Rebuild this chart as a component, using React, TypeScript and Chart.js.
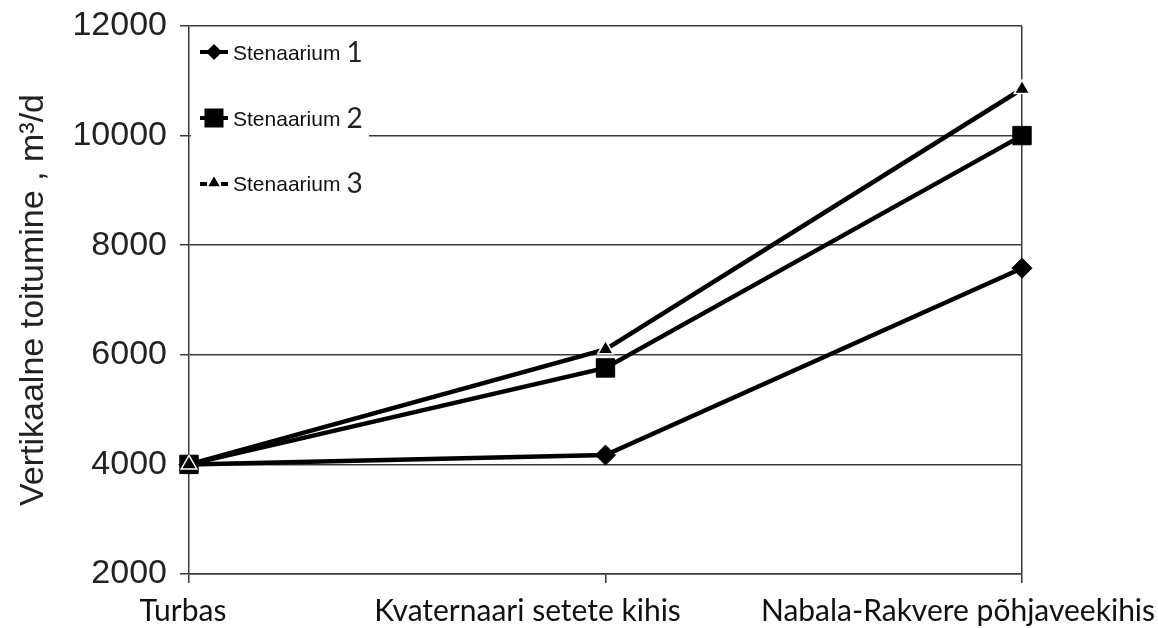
import React, { useEffect, useRef } from 'react';
import { Chart, registerables } from 'chart.js';

Chart.register(...registerables);

const CATEGORIES = ['Turbas', 'Kvaternaari setete kihis', 'Nabala-Rakvere põhjaveekihis'];
const SERIES_LABELS = ['Stenaarium', 'Stenaarium', 'Stenaarium'];
const SERIES_NUMBERS = ['1', '2', '3'];
const SCENARIO_1 = [4000, 4170, 7580];
const SCENARIO_2 = [4000, 5760, 10000];
const SCENARIO_3 = [4000, 6100, 10850];
const Y_MIN = 2000;
const Y_MAX = 12000;
const Y_STEP = 2000;
const Y_TITLE = 'Vertikaalne toitumine , m³/d';

const LABEL_SHIFT = [-6, -78, -64];
const AXIS_COLOR = '#3a3a3a';

function drawMarker(ctx: CanvasRenderingContext2D, style: string, x: number, y: number, r: number) {
  ctx.beginPath();
  if (style === 'rectRot') {
    ctx.moveTo(x - r, y);
    ctx.lineTo(x, y - r);
    ctx.lineTo(x + r, y);
    ctx.lineTo(x, y + r);
    ctx.closePath();
    ctx.fillStyle = '#000';
    ctx.fill();
  } else if (style === 'rect') {
    ctx.rect(x - r, y - r, 2 * r, 2 * r);
    ctx.fillStyle = '#000';
    ctx.fill();
  } else {
    ctx.moveTo(x, y - r);
    ctx.lineTo(x + r * 0.866, y + r / 2);
    ctx.lineTo(x - r * 0.866, y + r / 2);
    ctx.closePath();
    ctx.fillStyle = '#000';
    ctx.fill();
    ctx.strokeStyle = '#fff';
    ctx.lineWidth = 1.5;
    ctx.stroke();
  }
}

const legendPlugin = {
  id: 'insideLegend',
  afterDraw(chart: any) {
    const ctx: CanvasRenderingContext2D = chart.ctx;
    const area = chart.chartArea;
    ctx.save();
    ctx.fillStyle = '#fff';
    ctx.fillRect(area.left + 2, area.top + 3, 178, 182);
    const rows = [52, 118, 183];
    const styles = ['rectRot', 'rect', 'triangle'];
    const sizes = [8, 9.5, 8];
    rows.forEach((y, i) => {
      ctx.strokeStyle = '#000';
      ctx.lineWidth = 4;
      ctx.beginPath();
      if (i === 2) {
        ctx.moveTo(200, y + 1);
        ctx.lineTo(207, y + 1);
        ctx.moveTo(221, y + 1);
        ctx.lineTo(228, y + 1);
      } else {
        ctx.moveTo(200, y);
        ctx.lineTo(228, y);
      }
      ctx.stroke();
      drawMarker(ctx, styles[i], 214, y, sizes[i]);
      ctx.fillStyle = '#111';
      ctx.textBaseline = 'alphabetic';
      ctx.textAlign = 'left';
      ctx.font = '21px "Liberation Sans"';
      ctx.fillText(SERIES_LABELS[i], 233, y + 8);
      const w = ctx.measureText(SERIES_LABELS[i]).width;
      ctx.font = '28px Lato';
      ctx.fillStyle = '#222';
      ctx.fillText(SERIES_NUMBERS[i], 233 + w + 6, y + 10);
    });
    ctx.restore();
  },
};

const xLabelPlugin = {
  id: 'xLabels',
  afterDraw(chart: any) {
    const ctx: CanvasRenderingContext2D = chart.ctx;
    const xs = chart.scales.x;
    ctx.save();
    ctx.font = '30px Lato';
    ctx.fillStyle = '#111';
    ctx.textAlign = 'center';
    ctx.textBaseline = 'alphabetic';
    CATEGORIES.forEach((c, i) => {
      ctx.fillText(c, xs.getPixelForTick(i) + LABEL_SHIFT[i], 621);
    });
    ctx.restore();
  },
};

export default function App() {
  const ref = useRef<HTMLCanvasElement>(null);
  useEffect(() => {
    if (!ref.current) return;
    const common = {
      borderColor: '#000',
      backgroundColor: '#000',
      borderWidth: 4.5,
      pointBackgroundColor: '#000',
      tension: 0,
      clip: false as any,
    };
    const chart = new Chart(ref.current, {
      type: 'line',
      data: {
        labels: CATEGORIES,
        datasets: [
          {
            ...common,
            label: SERIES_LABELS[0] + ' ' + SERIES_NUMBERS[0],
            data: SCENARIO_1,
            pointStyle: 'rectRot',
            pointRadius: 10,
            pointBorderColor: '#000',
            pointBorderWidth: 1,
            order: 3,
          },
          {
            ...common,
            label: SERIES_LABELS[1] + ' ' + SERIES_NUMBERS[1],
            data: SCENARIO_2,
            pointStyle: 'rect',
            pointRadius: 13,
            pointBorderColor: '#000',
            pointBorderWidth: 1,
            order: 2,
          },
          {
            ...common,
            label: SERIES_LABELS[2] + ' ' + SERIES_NUMBERS[2],
            data: SCENARIO_3,
            pointStyle: 'triangle',
            pointRadius: 9,
            pointBorderColor: '#fff',
            pointBorderWidth: 1.5,
            order: 1,
          },
        ],
      },
      options: {
        responsive: false,
        animation: false,
        devicePixelRatio: 1,
        layout: { padding: { left: 0, right: 136, top: 26, bottom: 0 } },
        plugins: {
          legend: { display: false },
          tooltip: { enabled: false },
        },
        scales: {
          x: {
            type: 'category',
            offset: false,
            border: { display: true, color: AXIS_COLOR, width: 1.5 },
            grid: {
              color: (c: any) => (c.index === CATEGORIES.length - 1 ? AXIS_COLOR : 'rgba(0,0,0,0)'),
              tickColor: AXIS_COLOR,
              tickLength: 9,
              lineWidth: 1.5,
            },
            ticks: { display: false },
            afterFit: (s: any) => {
              s.height = 54;
              s.paddingLeft = 0;
              s.paddingRight = 0;
            },
          },
          y: {
            min: Y_MIN,
            max: Y_MAX,
            border: { display: true, color: AXIS_COLOR, width: 1.5 },
            grid: { color: AXIS_COLOR, tickColor: AXIS_COLOR, tickLength: 9, lineWidth: 1.5 },
            ticks: {
              stepSize: Y_STEP,
              font: { family: '"Liberation Sans"', size: 34 },
              color: '#222',
              padding: 13,
              callback: (v: any) => String(v),
            },
            title: {
              display: true,
              text: Y_TITLE,
              font: { family: '"Liberation Sans"', size: 34 },
              color: '#222',
              padding: { top: 13, bottom: 0 },
            },
            afterFit: (s: any) => {
              s.width = 189;
              s.paddingTop = 0;
              s.paddingBottom = 0;
            },
          },
        },
      },
      plugins: [legendPlugin, xLabelPlugin],
    });
    return () => chart.destroy();
  }, []);
  return (
    <div style={{ position: 'fixed', left: 0, top: 0, width: 1158, height: 628, background: '#fff' }}>
      <canvas ref={ref} width={1158} height={628} style={{ width: 1158, height: 628, display: 'block' }} />
    </div>
  );
}
